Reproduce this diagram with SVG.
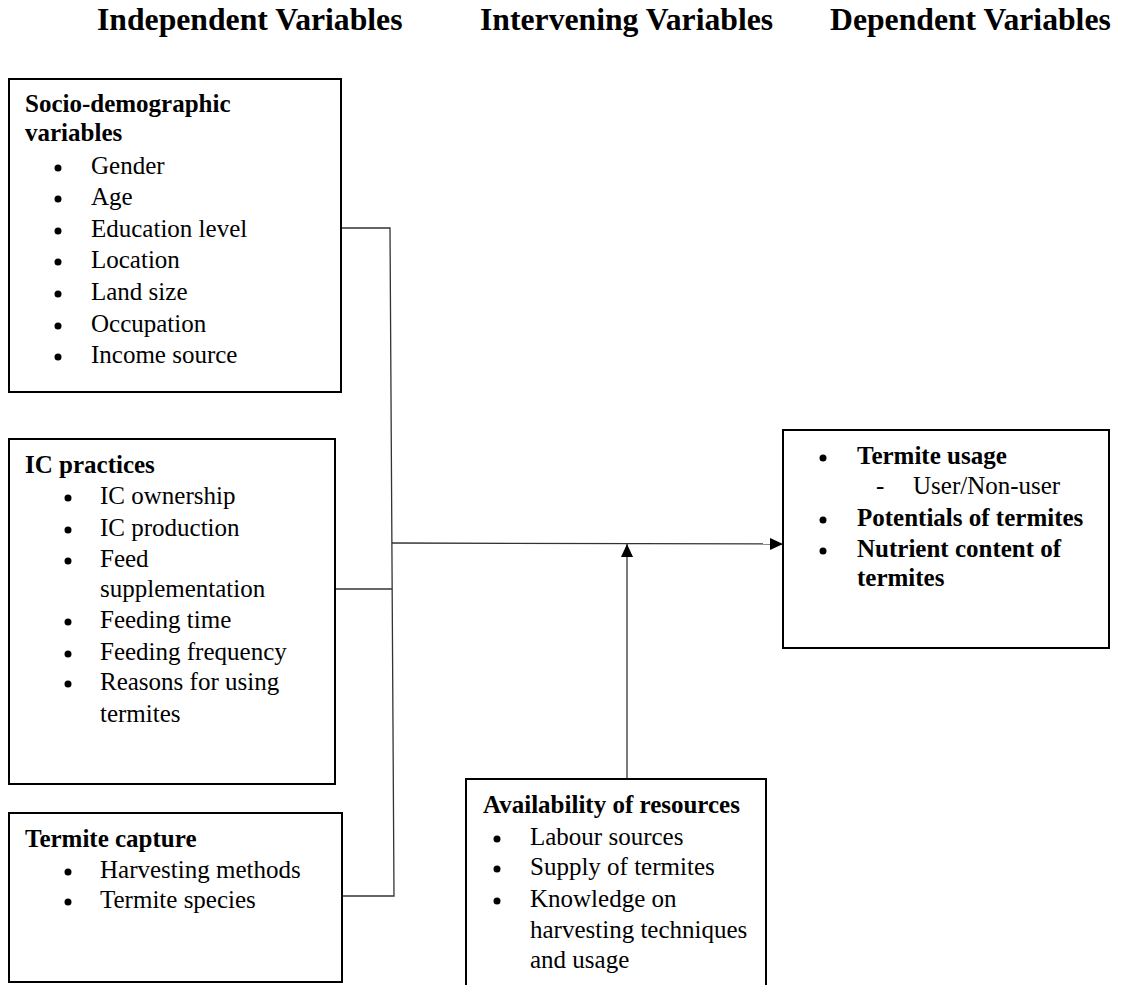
<svg xmlns="http://www.w3.org/2000/svg" width="1123" height="985" viewBox="0 0 1123 985">
<style>
text{font-family:"Liberation Serif","Times New Roman",serif;fill:#000}
.h{font-size:31.7px;font-weight:bold}
.t{font-size:25px}
.b{font-size:25px;font-weight:bold}
.box{fill:#fff;stroke:#000;stroke-width:2}
.con{fill:none;stroke:#333;stroke-width:1.3}
.dot{fill:#000}
</style>
<defs>
<marker id="arr" viewBox="0 0 13 12" refX="13" refY="6" markerWidth="13" markerHeight="12" markerUnits="userSpaceOnUse" orient="auto">
<path d="M0,0 L13,6 L0,12 Z" fill="#000"/>
</marker>
</defs>
<g id="headers">
<text class="h" x="97" y="30">Independent Variables</text>
<text class="h" x="480" y="30">Intervening Variables</text>
<text class="h" x="830" y="30">Dependent Variables</text>
</g>
<g id="connectors">
<polyline class="con" points="341,228 390,228 394,896 342,896"/>
<line class="con" x1="335" y1="589" x2="392" y2="589"/>
<line class="con" x1="392" y1="543" x2="783" y2="544" marker-end="url(#arr)"/>
<line class="con" x1="627" y1="779" x2="627" y2="544" marker-end="url(#arr)"/>
</g>
<g id="socio">
<rect class="box" x="9" y="79" width="332" height="313"/>
<text class="b" x="25" y="112">Socio-demographic</text>
<text class="b" x="25" y="141">variables</text>
<g class="dot">
<circle cx="58" cy="168" r="3.5"/><circle cx="58" cy="199" r="3.5"/><circle cx="58" cy="231" r="3.5"/>
<circle cx="58" cy="262" r="3.5"/><circle cx="58" cy="294" r="3.5"/><circle cx="58" cy="326" r="3.5"/>
<circle cx="58" cy="357" r="3.5"/>
</g>
<g class="t">
<text x="91" y="174">Gender</text>
<text x="91" y="205">Age</text>
<text x="91" y="237">Education level</text>
<text x="91" y="268">Location</text>
<text x="91" y="300">Land size</text>
<text x="91" y="332">Occupation</text>
<text x="91" y="363">Income source</text>
</g>
</g>
<g id="ic">
<rect class="box" x="9" y="439" width="326" height="345"/>
<text class="b" x="25" y="473">IC practices</text>
<g class="dot">
<circle cx="68" cy="498" r="3.5"/><circle cx="68" cy="530" r="3.5"/><circle cx="68" cy="561" r="3.5"/>
<circle cx="68" cy="622" r="3.5"/><circle cx="68" cy="654" r="3.5"/><circle cx="68" cy="684" r="3.5"/>
</g>
<g class="t">
<text x="100" y="504">IC ownership</text>
<text x="100" y="536">IC production</text>
<text x="100" y="567">Feed</text>
<text x="100" y="597">supplementation</text>
<text x="100" y="628">Feeding time</text>
<text x="100" y="660">Feeding frequency</text>
<text x="100" y="690">Reasons for using</text>
<text x="100" y="722">termites</text>
</g>
</g>
<g id="capture">
<rect class="box" x="9" y="813" width="333" height="169"/>
<text class="b" x="25" y="847">Termite capture</text>
<g class="dot">
<circle cx="68" cy="872" r="3.5"/><circle cx="68" cy="902" r="3.5"/>
</g>
<g class="t">
<text x="100" y="878">Harvesting methods</text>
<text x="100" y="908">Termite species</text>
</g>
</g>
<g id="resources">
<rect class="box" x="466" y="779" width="300" height="215"/>
<text class="b" x="483" y="813">Availability of resources</text>
<g class="dot">
<circle cx="497" cy="839" r="3.5"/><circle cx="497" cy="869" r="3.5"/><circle cx="497" cy="901" r="3.5"/>
</g>
<g class="t">
<text x="530" y="845">Labour sources</text>
<text x="530" y="875">Supply of termites</text>
<text x="530" y="907">Knowledge on</text>
<text x="530" y="938">harvesting techniques</text>
<text x="530" y="968">and usage</text>
</g>
</g>
<g id="outcome">
<rect class="box" x="783" y="430" width="326" height="218"/>
<g class="dot">
<circle cx="823" cy="458" r="3.5"/><circle cx="823" cy="520" r="3.5"/><circle cx="823" cy="551" r="3.5"/>
</g>
<text class="b" x="857" y="464">Termite usage</text>
<text class="t" x="876" y="494">-</text><text class="t" x="913" y="494">User/Non-user</text>
<text class="b" x="857" y="526">Potentials of termites</text>
<text class="b" x="857" y="557">Nutrient content of</text>
<text class="b" x="857" y="586">termites</text>
</g>
</svg>
